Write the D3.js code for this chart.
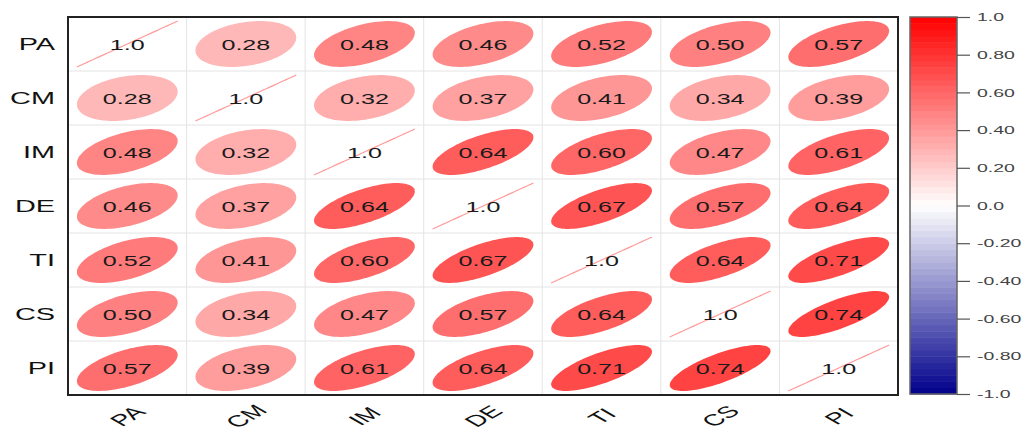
<!DOCTYPE html>
<html>
<head>
<meta charset="utf-8">
<script src="https://cdn.jsdelivr.net/npm/d3@7"></script>
<style>
  html, body { margin: 0; padding: 0; background: #fff; }
  svg { display: block; font-family: "Liberation Sans", Arial, Helvetica, sans-serif; }
</style>
</head>
<body>
<svg id="chart" width="1024" height="432"></svg>
<script>
// Variables of the correlation matrix
const variables = ["PA", "CM", "IM", "DE", "TI", "CS", "PI"];

// Correlation rows (one array per variable)
const rowPA = [1.00, 0.28, 0.48, 0.46, 0.52, 0.50, 0.57];
const rowCM = [0.28, 1.00, 0.32, 0.37, 0.41, 0.34, 0.39];
const rowIM = [0.48, 0.32, 1.00, 0.64, 0.60, 0.47, 0.61];
const rowDE = [0.46, 0.37, 0.64, 1.00, 0.67, 0.57, 0.64];
const rowTI = [0.52, 0.41, 0.60, 0.67, 1.00, 0.64, 0.71];
const rowCS = [0.50, 0.34, 0.47, 0.57, 0.64, 1.00, 0.74];
const rowPI = [0.57, 0.39, 0.61, 0.64, 0.71, 0.74, 1.00];
const corrRows = [rowPA, rowCM, rowIM, rowDE, rowTI, rowCS, rowPI];

// Colour legend ticks
const legendTicks = [1.0, 0.8, 0.6, 0.4, 0.2, 0.0, -0.2, -0.4, -0.6, -0.8, -1.0];
const legendTickLabels = ["1.0", "0.80", "0.60", "0.40", "0.20", "0.0", "-0.20", "-0.40", "-0.60", "-0.80", "-1.0"];

const svg = d3.select("#chart");

const plot = { left: 68, right: 898, top: 17, bottom: 395 };
const x = d3.scaleBand().domain(variables).range([plot.left, plot.right]);
const y = d3.scaleBand().domain(variables).range([plot.top, plot.bottom]);
const bw = x.bandwidth(), bh = y.bandwidth();

const color = d3.scaleLinear()
  .domain([-1, 0, 1])
  .range(["#00008B", "#FFFFFF", "#FF0000"])
  .interpolate(d3.interpolateRgb);

// Flatten the matrix into cells
const cells = [];
corrRows.forEach((row, i) => row.forEach((r, j) => {
  cells.push({ row: variables[i], col: variables[j], r, diag: i === j });
}));

// Ellipse outline for correlation r, in cell units (half-extent 0.425)
function ellipsePath(d) {
  const cx = x(d.col) + bw / 2, cy = y(d.row) + bh / 2;
  const a = Math.acos(Math.max(-1, Math.min(1, d.r))) / 2;
  const n = 99, s = 0.85;
  const pts = d3.range(n).map(k => {
    const t = 2 * Math.PI * k / (n - 1);
    const ex = Math.cos(t + a) / 2 * s;
    const ey = Math.cos(t - a) / 2 * s;
    return [cx + ex * bw, cy - ey * bh];
  });
  return d3.line()(pts) + "Z";
}

// Grid
const grid = svg.append("g").attr("stroke", "#e4e4e4").attr("stroke-width", 1);
variables.slice(1).forEach(v => {
  grid.append("line").attr("x1", x(v)).attr("x2", x(v)).attr("y1", plot.top).attr("y2", plot.bottom);
  grid.append("line").attr("y1", y(v)).attr("y2", y(v)).attr("x1", plot.left).attr("x2", plot.right);
});

// Ellipses (diagonal cells degenerate to a thin line)
svg.append("g").selectAll("path")
  .data(cells)
  .join("path")
  .attr("d", ellipsePath)
  .attr("fill", d => d.diag ? "none" : color(d.r))
  .attr("stroke", d => d.diag ? "#ff9a9a" : "none")
  .attr("stroke-width", d => d.diag ? 1.2 : 0);

// Cell values
const numSize = 15.5, numStretch = 1.62;
svg.append("g").selectAll("text")
  .data(cells)
  .join("text")
  .attr("transform", d => `translate(${x(d.col) + bw / 2},${y(d.row) + bh / 2 + numSize * 0.36}) scale(${numStretch},1)`)
  .attr("text-anchor", "middle")
  .attr("font-size", numSize)
  .attr("fill", "#1a1a1a")
  .text(d => d.diag ? d.r.toFixed(1) : d.r.toFixed(2));

// Outer frame
svg.append("rect")
  .attr("x", plot.left).attr("y", plot.top)
  .attr("width", plot.right - plot.left).attr("height", plot.bottom - plot.top)
  .attr("fill", "none").attr("stroke", "#222").attr("stroke-width", 2);

// Row labels
const labSize = 16.5, labStretch = 1.75;
svg.append("g").selectAll("text")
  .data(variables)
  .join("text")
  .attr("transform", v => `translate(55,${y(v) + bh / 2 + labSize * 0.36}) scale(${labStretch},1)`)
  .attr("text-anchor", "end")
  .attr("font-size", labSize)
  .attr("fill", "#111")
  .text(v => v);

// Column labels (rotated)
svg.append("g").selectAll("text")
  .data(variables)
  .join("text")
  .attr("transform", v => `translate(${x(v) + bw / 2},${416}) scale(${labStretch},1) rotate(-45)`)
  .attr("text-anchor", "middle")
  .attr("dy", "0.36em")
  .attr("font-size", labSize - 0.5)
  .attr("fill", "#111")
  .text(v => v);

// Colour legend
const leg = { x0: 910, x1: 957, top: 17, bottom: 394 };
const ly = d3.scaleLinear().domain([1, -1]).range([leg.top, leg.bottom]);
const nBands = 60;
const bandVals = d3.range(nBands).map(i => -1 + (i + 0.5) * 2 / nBands);
svg.append("g").selectAll("rect")
  .data(bandVals)
  .join("rect")
  .attr("x", leg.x0)
  .attr("width", leg.x1 - leg.x0)
  .attr("y", v => ly(v + 1 / nBands))
  .attr("height", (leg.bottom - leg.top) / nBands + 0.5)
  .attr("fill", v => color(v));

svg.append("rect")
  .attr("x", leg.x0).attr("y", leg.top)
  .attr("width", leg.x1 - leg.x0).attr("height", leg.bottom - leg.top)
  .attr("fill", "none").attr("stroke", "#666").attr("stroke-width", 1.5);

const legAxis = d3.axisRight(ly)
  .tickValues(legendTicks)
  .tickFormat((d, i) => legendTickLabels[i])
  .tickSize(13)
  .tickPadding(0);

const axisG = svg.append("g")
  .attr("transform", `translate(${leg.x1},0)`)
  .call(legAxis);
axisG.select(".domain").remove();
axisG.selectAll(".tick line").attr("stroke", "#555").attr("stroke-width", 1.2);
const tickSize = 10, tickStretch = 1.95;
axisG.selectAll(".tick text")
  .attr("x", null).attr("dy", null)
  .attr("transform", `translate(20,${tickSize * 0.36}) scale(${tickStretch},1)`)
  .attr("font-size", tickSize)
  .attr("font-family", "'Liberation Sans', Arial, sans-serif")
  .attr("fill", "#444");
</script>
</body>
</html>
